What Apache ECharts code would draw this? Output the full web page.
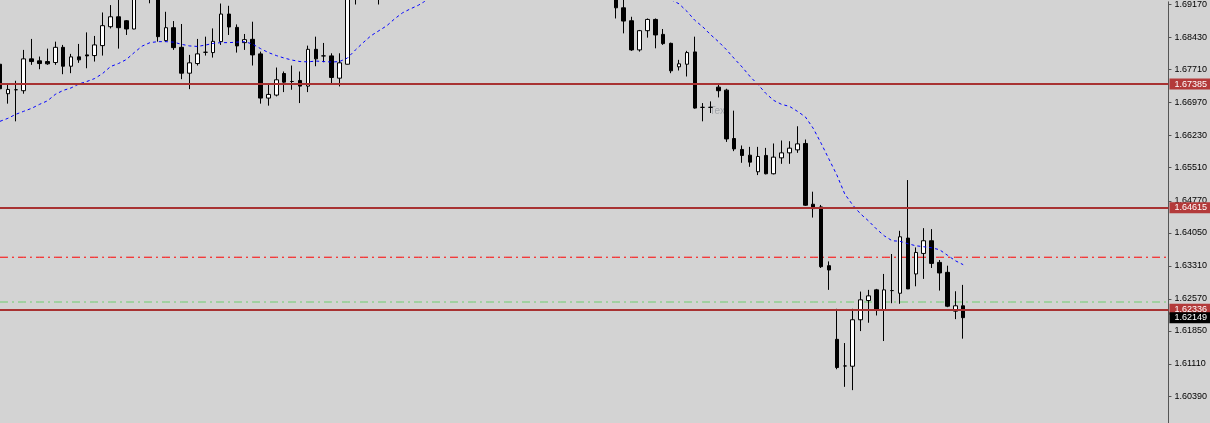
<!DOCTYPE html>
<html>
<head>
<meta charset="utf-8">
<script src="https://cdn.jsdelivr.net/npm/echarts@6/dist/echarts.min.js"></script>
<style>
  html, body { margin: 0; padding: 0; background: #d3d3d3; }
  #chart { width: 1210px; height: 423px; }
</style>
</head>
<body>
<div id="chart"></div>
<script>
// Bars k = -1 .. 121 (null = bar outside the visible price range)
const opens = [
  1.67831, 1.67170, 1.67259, 1.67237, 1.67951, 1.67907, 1.67891, 1.67869, 1.68210, 1.67786,
  1.67996, 1.68040, 1.68025, 1.68248, 1.68672, 1.68895, 1.68806, 1.68621, null, 1.69565,
  1.69364, 1.68360, 1.68650, 1.68210, 1.67630, 1.67846, 1.68099, 1.68092, 1.68337, 1.68956,
  1.68657, 1.68315, 1.68389, 1.68063, 1.67072, 1.67139, 1.67623, 1.67444, 1.67467, 1.67340,
  1.68165, 1.68018, 1.68018, 1.67518, 1.67831, 1.69364, null, null, 1.69409, null,
  null, null, null, null, null, null, null, null, null, null,
  null, null, null, null, null, null, null, null, null, null,
  null, null, null, null, null, null, null, null, 1.69364, 1.69096,
  1.68806, 1.68152, 1.68583, 1.68835, 1.68500, 1.68299, 1.67773, 1.67831, 1.68107, 1.66864,
  1.66864, 1.67317, 1.67250, 1.66165, 1.65920, 1.65792, 1.65420, 1.65786, 1.65375, 1.65732,
  1.65844, 1.65911, 1.66054, 1.64692, 1.64632, 1.63314, 1.61663, 1.61066, 1.61060, 1.62102,
  1.62533, 1.62772, 1.62326, 1.62756, 1.62696, 1.63933, 1.63129, 1.63589, 1.63873, 1.63388,
  1.63165, 1.62294, 1.62415
];
const closes = [
  1.67281, 1.67266, 1.67259, 1.67951, 1.67891, 1.67846, 1.67840, 1.68210, 1.67786, 1.67996,
  1.67929, 1.68018, 1.68264, 1.68695, 1.68895, 1.68650, 1.68621, 1.69409, null, 1.69364,
  1.68449, 1.68650, 1.68203, 1.67630, 1.67862, 1.68063, 1.68099, 1.68344, 1.68956, 1.68666,
  1.68241, 1.68382, 1.68040, 1.67072, 1.67154, 1.67482, 1.67429, 1.67444, 1.67340, 1.68165,
  1.67951, 1.68018, 1.67534, 1.67862, 1.69454, 1.69543, null, null, 1.69588, null,
  null, null, null, null, null, null, null, null, null, null,
  null, null, null, null, null, null, null, null, null, null,
  null, null, null, null, null, null, null, null, 1.69096, 1.68799,
  1.68152, 1.68583, 1.68835, 1.68487, 1.68293, 1.67683, 1.67840, 1.68092, 1.66848, 1.66864,
  1.66864, 1.67237, 1.66156, 1.65933, 1.65786, 1.65636, 1.65763, 1.65375, 1.65748, 1.65844,
  1.65949, 1.66045, 1.64670, 1.64594, 1.63292, 1.63218, 1.61031, 1.61066, 1.62102, 1.62549,
  1.62638, 1.62326, 1.62772, 1.62756, 1.63962, 1.62794, 1.63611, 1.63873, 1.63366, 1.63151,
  1.62406, 1.62415, 1.62149
];
const lows = [
  1.67177, 1.66947, 1.66551, 1.67170, 1.67817, 1.67719, 1.67817, 1.67817, 1.67607, 1.67630,
  1.67862, 1.67741, 1.67891, 1.68025, 1.68634, 1.68181, 1.68487, 1.68615, null, 1.69197,
  1.68337, 1.68337, 1.68152, 1.67496, 1.67273, 1.67802, 1.68025, 1.67980, 1.68264, 1.68487,
  1.68092, 1.68152, 1.67802, 1.66947, 1.66902, 1.67110, 1.67206, 1.67259, 1.66960, 1.67206,
  1.67786, 1.67875, 1.67406, 1.67333, 1.67825, 1.69170, null, null, 1.69170, null,
  null, null, null, null, null, null, null, null, null, null,
  null, null, null, null, null, null, null, null, null, null,
  null, null, null, null, null, null, null, null, 1.68857, 1.68523,
  1.68130, 1.68114, 1.68427, 1.68188, 1.68264, 1.67630, 1.67690, 1.67556, 1.66835, 1.66551,
  1.66737, 1.67087, 1.66089, 1.65882, 1.65621, 1.65531, 1.65346, 1.65362, 1.65362, 1.65598,
  1.65598, 1.65844, 1.64654, 1.64393, 1.63263, 1.62772, 1.60993, 1.60598, 1.60524, 1.61848,
  1.62035, 1.62198, 1.61625, 1.62473, 1.62460, 1.62790, 1.62852, 1.63018, 1.63263, 1.62756,
  1.62384, 1.62116, 1.61678
];
const highs = [
  1.67936, 1.67371, 1.67460, 1.68152, 1.68398, 1.68003, 1.68181, 1.68337, 1.68264, 1.68063,
  1.68286, 1.68545, 1.68465, 1.68991, 1.69157, 1.69297, 1.68822, 1.69498, null, 1.69677,
  1.69409, 1.69007, 1.68799, 1.68733, 1.68040, 1.68398, 1.68449, 1.68634, 1.69192, 1.69141,
  1.68724, 1.68509, 1.68784, 1.68114, 1.67393, 1.67757, 1.67668, 1.67802, 1.67668, 1.68248,
  1.68449, 1.68308, 1.68076, 1.68076, 1.69543, 1.69632, null, null, 1.69677, null,
  null, null, null, null, null, null, null, null, null, null,
  null, null, null, null, null, null, null, null, null, null,
  null, null, null, null, null, null, null, null, 1.69454, 1.69275,
  1.68895, 1.68599, 1.68857, 1.68857, 1.68621, 1.68315, 1.67929, 1.68130, 1.68449, 1.66960,
  1.66998, 1.67371, 1.67281, 1.66790, 1.66009, 1.65978, 1.65978, 1.65955, 1.66054, 1.66121,
  1.66105, 1.66440, 1.66143, 1.64973, 1.64676, 1.63410, 1.62348, 1.61580, 1.62348, 1.62734,
  1.62772, 1.62794, 1.63129, 1.63576, 1.64096, 1.65234, 1.63723, 1.64156, 1.64134, 1.63442,
  1.63314, 1.62741, 1.62884
];
// Moving average (dotted blue)
const maValues = [
  1.66551, 1.66618, 1.66708, 1.66775, 1.66842, 1.66931, 1.67009, 1.67154, 1.67244, 1.67299,
  1.67389, 1.67444, 1.67511, 1.67623, 1.67779, 1.67846, 1.67936, 1.68092, 1.68237, 1.68315,
  1.68337, 1.68337, 1.68326, 1.68277, 1.68241, 1.68230, 1.68259, 1.68299, 1.68315, 1.68315,
  1.68326, 1.68337, 1.68282, 1.68181, 1.68092, 1.68025, 1.67969, 1.67924, 1.67891, 1.67884,
  1.67902, 1.67891, 1.67880, 1.67891, 1.67969, 1.68148, 1.68315, 1.68471, 1.68583, 1.68695,
  1.68851, 1.68985, 1.69074, 1.69154, 1.69264, null, null, null, null, null,
  null, null, null, null, null, null, null, null, null, null,
  null, null, null, null, null, null, null, null, null, null,
  null, null, null, null, null, 1.69275, 1.69186, 1.69018, 1.68817, 1.68672,
  1.68494, 1.68337, 1.68159, 1.67958, 1.67768, 1.67556, 1.67377, 1.67177, 1.67020, 1.66931,
  1.66886, 1.66775, 1.66652, 1.66395, 1.66060, 1.65703, 1.65346, 1.64922, 1.64676, 1.64475,
  1.64319, 1.64140, 1.63984, 1.63873, 1.63862, 1.63806, 1.63761, 1.63739, 1.63716, 1.63672,
  1.63549, 1.63426, 1.63337
];
// Price axis labels
const tickLabels = [1.69170, 1.68430, 1.67710, 1.66970, 1.66230, 1.65510, 1.64770,
                    1.64050, 1.63310, 1.62570, 1.61850, 1.61110, 1.60390];
// Horizontal levels
const solidLevels = [1.67385, 1.64615, 1.62336];
const redDashLevel = 1.63504;
const greenDashLevel = 1.62500;
const bidPrice = 1.62149;
const priceMin = 1.597873, priceMax = 1.692303;

const SLOTS = 149;
const categories = Array.from({length: SLOTS}, (_, i) => String(i - 1));
const candleData = categories.map((_, i) =>
  (i < opens.length && opens[i] != null) ? [opens[i], closes[i], lows[i], highs[i]] : '-');
const maData = categories.map((_, i) =>
  (i < maValues.length && maValues[i] != null) ? maValues[i] : '-');
const emptyData = categories.map(() => '-');

const FONT = 'Liberation Sans';
const boxLabel = (bg) => ({
  show: true, position: 'end', distance: 1,
  formatter: (p) => Number(p.value).toFixed(5),
  color: '#ffffff', backgroundColor: bg, fontFamily: FONT, fontSize: 9,
  lineHeight: 11, padding: [0, 3, 0, 5]
});
const levelSeries = (name, value, lineStyle, label, z) => ({
  name, type: 'line', data: emptyData, z, silent: true, symbol: 'none',
  itemStyle: { color: lineStyle.color }, lineStyle: { color: lineStyle.color },
  markLine: {
    silent: true, precision: 5, symbol: ['none', 'none'], animation: false,
    lineStyle, label: label || { show: false },
    data: [{ yAxis: value }]
  }
});
// dash-dot level drawn as a flat line series across all bar slots
const dashSeries = (name, value, color) => ({
  name, type: 'line', data: categories.map(() => value), z: 2, silent: true,
  symbol: 'none', showSymbol: false, color: color,
  itemStyle: { color: color },
  lineStyle: { color: color, width: 1, type: [8, 4, 2, 4], opacity: 1 }
});

const series = [
  dashSeries('redDash', redDashLevel, 'rgb(255,0,0)'),
  dashSeries('greenDash', greenDashLevel, 'rgb(110,205,110)'),
  {
    type: 'candlestick', data: candleData, barWidth: 4, clip: true, z: 3,
    itemStyle: { color: '#ffffff', color0: '#000000', borderColor: '#000000', borderColor0: '#000000', borderWidth: 1 }
  },
  {
    type: 'line', data: maData, showSymbol: false, symbol: 'none', clip: true, z: 4,
    connectNulls: false, color: '#0000ff',
    lineStyle: { color: '#0000ff', width: 1, type: [3, 3] }
  }
];
solidLevels.forEach((v, i) => series.push(
  levelSeries('level' + i, v, { color: '#a83232', width: 2, type: 'solid' }, boxLabel('#b33a3a'), 2)));
series.push(levelSeries('bid', bidPrice, { color: 'rgba(0,0,0,0)', width: 1 }, boxLabel('#000000'), 2));

const chart = echarts.init(document.getElementById('chart'), null, { renderer: 'canvas' });
chart.setOption({
  animation: false,
  backgroundColor: '#d3d3d3',
  grid: { left: 0, top: 0, width: 1169, height: 423, containLabel: false },
  xAxis: { type: 'category', data: categories, boundaryGap: false, show: false },
  yAxis: {
    type: 'value', position: 'right', min: priceMin, max: priceMax,
    splitLine: { show: false },
    axisLine: { show: true, lineStyle: { color: '#555555', width: 1 } },
    axisTick: { show: true, length: 3, customValues: tickLabels, lineStyle: { color: '#555555' } },
    axisLabel: {
      customValues: tickLabels, margin: 6, color: '#000000', fontFamily: FONT, fontSize: 9,
      formatter: (v) => Number(v).toFixed(5)
    }
  },
  series
});

// "Text" chart object, anchored in data coordinates
const anchor = chart.convertToPixel({ gridIndex: 0 }, ['89', 1.66775]);
chart.setOption({
  graphic: [{
    type: 'text', z: 0, silent: true, x: anchor[0] - 1, y: anchor[1],
    style: { text: 'Text', fill: '#a3a6ab', font: '10px "Liberation Sans"', textAlign: 'left', textVerticalAlign: 'middle' }
  }]
});
</script>
</body>
</html>
